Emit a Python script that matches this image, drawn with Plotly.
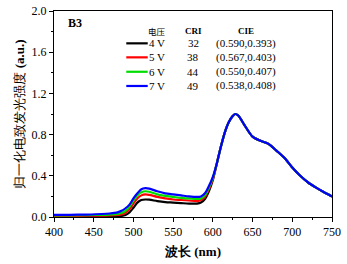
import plotly.graph_objects as go

wavelength = [400, 420, 440, 460, 470, 480, 485, 490, 495, 500, 505, 510, 515, 520, 530, 540, 550, 560, 570, 580, 585, 590, 595,
              600, 605, 610, 615, 620, 625, 628, 632, 640, 650, 660, 670, 680, 690, 700, 710, 720, 730, 740, 750]
tail = [0.52, 0.68, 0.82, 0.92, 0.98, 1.00, 0.985, 0.89, 0.78, 0.74, 0.71, 0.645, 0.575, 0.48, 0.40, 0.335, 0.285, 0.24, 0.20]

v4 = [0.005, 0.005, 0.006, 0.007, 0.007, 0.008, 0.01, 0.02, 0.045, 0.09, 0.14, 0.165, 0.17, 0.168, 0.155, 0.145, 0.14, 0.135, 0.13, 0.13, 0.14, 0.175, 0.25, 0.36] + tail
v5 = [0.01, 0.01, 0.012, 0.014, 0.015, 0.02, 0.025, 0.04, 0.075, 0.13, 0.18, 0.21, 0.22, 0.215, 0.195, 0.18, 0.17, 0.165, 0.16, 0.155, 0.165, 0.195, 0.27, 0.37] + tail
v6 = [0.015, 0.016, 0.018, 0.021, 0.024, 0.03, 0.04, 0.06, 0.10, 0.16, 0.21, 0.24, 0.25, 0.245, 0.22, 0.205, 0.195, 0.185, 0.18, 0.175, 0.18, 0.21, 0.285, 0.38] + tail
v7 = [0.02, 0.021, 0.024, 0.029, 0.034, 0.045, 0.06, 0.085, 0.12, 0.18, 0.23, 0.27, 0.28, 0.275, 0.25, 0.23, 0.22, 0.21, 0.20, 0.195, 0.20, 0.23, 0.30, 0.39] + tail

labels = ["4 V", "5 V", "6 V", "7 V"]
cri = ["32", "38", "44", "49"]
cie = ["(0.590,0.393)", "(0.567,0.403)", "(0.550,0.407)", "(0.538,0.408)"]
colors = ["#000000", "#ff0000", "#00dd00", "#0000ff"]
series = [v4, v5, v6, v7]

SERIF = "Liberation Serif"

fig = go.Figure()
for s, c, n in zip(series, colors, labels):
    fig.add_trace(go.Scatter(x=wavelength, y=s, mode="lines", name=n,
                             line=dict(color=c, width=2.2, shape="spline", smoothing=0.8),
                             showlegend=False))

# legend table
row_y = [1.686, 1.55, 1.41, 1.272]
head_y = 1.806
fig.add_annotation(x=530, y=head_y, text="电压", showarrow=False, xref="x", yref="y",
                   font=dict(family="Noto Sans CJK SC", size=8.5, color="#000"))
fig.add_annotation(x=575, y=head_y, text="<b>CRI</b>", showarrow=False, xref="x", yref="y",
                   font=dict(family=SERIF, size=9, color="#000"))
fig.add_annotation(x=642, y=head_y, text="<b>CIE</b>", showarrow=False, xref="x", yref="y",
                   font=dict(family=SERIF, size=9, color="#000"))
for i in range(4):
    fig.add_shape(type="line", x0=491, x1=518, y0=row_y[i], y1=row_y[i], xref="x", yref="y",
                  line=dict(color=colors[i], width=2.2))
    fig.add_annotation(x=517, y=row_y[i], text=labels[i], showarrow=False, xanchor="left",
                       xref="x", yref="y", font=dict(family=SERIF, size=11, color="#000"))
    fig.add_annotation(x=575, y=row_y[i], text=cri[i], showarrow=False,
                       xref="x", yref="y", font=dict(family=SERIF, size=11, color="#000"))
    fig.add_annotation(x=642, y=row_y[i], text=cie[i], showarrow=False,
                       xref="x", yref="y", font=dict(family=SERIF, size=11, color="#000"))

fig.add_annotation(x=426, y=1.883, text="<b>B3</b>", showarrow=False, xref="x", yref="y",
                   font=dict(family=SERIF, size=12, color="#000"))

axis_common = dict(showline=True, linecolor="#000", linewidth=1, mirror=True, ticks="outside",
                   ticklen=4, tickwidth=1, tickcolor="#000", showgrid=False, zeroline=False,
                   automargin=False, ticklabeloverflow="allow",
                   tickfont=dict(family=SERIF, size=12, color="#000"))

fig.update_xaxes(range=[400, 750], tickvals=[400, 450, 500, 550, 600, 650, 700, 750],
                 minor=dict(ticks="outside", ticklen=2, tickcolor="#000", dtick=25, tick0=400),
                 title=dict(text="<b>波长 (nm)</b>", standoff=8,
                            font=dict(family=SERIF, size=13, color="#000")),
                 **axis_common)
fig.update_yaxes(range=[0, 2.0], tickvals=[0, 0.4, 0.8, 1.2, 1.6, 2.0],
                 ticktext=["0.0", "0.4", "0.8", "1.2", "1.6", "2.0"],
                 minor=dict(ticks="outside", ticklen=2, tickcolor="#000", dtick=0.2, tick0=0),
                 title=dict(text="归一化电致发光强度 <b>(a.u.)</b>", standoff=4,
                            font=dict(family=SERIF, size=13, color="#000")),
                 **axis_common)

fig.update_layout(width=347, height=264, margin=dict(l=54, r=15, t=11, b=47),
                  paper_bgcolor="white", plot_bgcolor="white")

# remove the default 8px page margin so the figure fills the window exactly
fig.write_html("out.html", config={"displayModeBar": False},
               post_script="document.body.style.margin='0';document.body.style.overflow='hidden';")
